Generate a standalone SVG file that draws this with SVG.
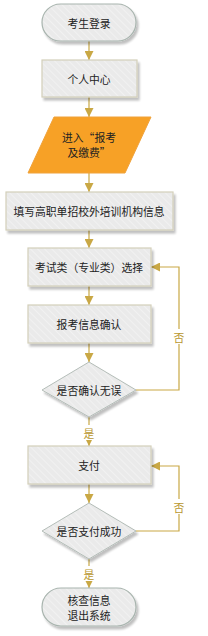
<svg xmlns="http://www.w3.org/2000/svg" width="208" height="636" viewBox="0 0 208 636">
<defs>
<pattern id="hatch" width="5" height="5" patternUnits="userSpaceOnUse" patternTransform="rotate(-45)">
<rect width="5" height="5" fill="#EAEAEA"/>
<line x1="0" y1="0" x2="0" y2="5" stroke="#F4F4F4" stroke-width="1.5"/>
</pattern>
<filter id="sh" x="-20%" y="-20%" width="140%" height="140%">
<feGaussianBlur in="SourceAlpha" stdDeviation="1.2"/>
<feOffset dx="2" dy="2.5" result="b"/>
<feComponentTransfer><feFuncA type="linear" slope="0.25"/></feComponentTransfer>
<feMerge><feMergeNode/><feMergeNode in="SourceGraphic"/></feMerge>
</filter>
<marker id="arr" viewBox="0 0 10 10" refX="10" refY="5" markerWidth="9" markerHeight="9" markerUnits="userSpaceOnUse" orient="auto">
<path d="M0,0 L10,5 L0,10 z" fill="#C9A845"/>
</marker>
</defs>
<style>
.box{fill:url(#hatch);stroke:#D3CFBA;stroke-width:1.2;filter:url(#sh)}
.term{fill:url(#hatch);stroke:#A8B4AE;stroke-width:1.2;filter:url(#sh)}
.dia{fill:url(#hatch);stroke:#B4BDB8;stroke-width:1;filter:url(#sh)}
.io{fill:#F7A126;stroke:#F0A23A;stroke-width:1}
text{font-family:"Noto Sans CJK SC","Liberation Sans",sans-serif;font-size:10.8px;fill:#222;text-anchor:middle;dominant-baseline:central}
.c{fill:none;stroke:#C9A845;stroke-width:1.2;marker-end:url(#arr)}
.lbl{fill:#B8962E;font-size:10.8px}
</style>
<g id="connectors">
<line class="c" x1="89" y1="41" x2="89" y2="60"/>
<line class="c" x1="89" y1="97" x2="89" y2="117"/>
<line class="c" x1="89" y1="173" x2="89" y2="192"/>
<line class="c" x1="89" y1="230" x2="89" y2="248"/>
<line class="c" x1="89" y1="286" x2="89" y2="305"/>
<line class="c" x1="89" y1="343" x2="89" y2="362"/>
<line class="c" x1="89" y1="417" x2="89" y2="446"/>
<polyline class="c" points="136,390 179,390 179,267 151,267"/>
<line class="c" x1="89" y1="484" x2="89" y2="503"/>
<line class="c" x1="89" y1="559" x2="89" y2="588"/>
<polyline class="c" points="136,531 179,531 179,466 151,466"/>
<rect x="173" y="329" width="12" height="15" fill="#fff"/>
<text class="lbl" x="179" y="337">否</text>
<rect x="83" y="425" width="12" height="15" fill="#fff"/>
<text class="lbl" x="89" y="433">是</text>
<rect x="173" y="499" width="12" height="15" fill="#fff"/>
<text class="lbl" x="179" y="507">否</text>
<rect x="83" y="566" width="12" height="15" fill="#fff"/>
<text class="lbl" x="89" y="574">是</text>
</g>
<g id="start">
<rect class="term" x="42" y="4" width="94" height="37" rx="18.5"/>
<text x="89" y="22.5">考生登录</text>
</g>
<g id="center">
<rect class="box" x="42" y="60" width="95" height="37"/>
<text x="89" y="78.5">个人中心</text>
</g>
<g id="enter">
<polygon class="io" points="54,117 151,117 125,173 28,173"/>
<text x="89" y="137">进入“报考</text>
<text x="89" y="152">及缴费”</text>
</g>
<g id="fill">
<rect class="box" x="6" y="192" width="167" height="38"/>
<text x="89" y="211">填写高职单招校外培训机构信息</text>
</g>
<g id="select">
<rect class="box" x="28" y="248" width="123" height="38"/>
<text x="89" y="267">考试类（专业类）选择</text>
</g>
<g id="confirm">
<rect class="box" x="28" y="305" width="123" height="38"/>
<text x="89" y="324">报考信息确认</text>
</g>
<g id="check">
<polygon class="dia" points="89,362 136,390 89,417 42,390"/>
<text x="89" y="390">是否确认无误</text>
</g>
<g id="pay">
<rect class="box" x="28" y="446" width="123" height="38"/>
<text x="89" y="465">支付</text>
</g>
<g id="paycheck">
<polygon class="dia" points="89,503 136,531 89,559 42,531"/>
<text x="89" y="531">是否支付成功</text>
</g>
<g id="end">
<rect class="term" x="42" y="588" width="94" height="38" rx="19"/>
<text x="89" y="599.5">核查信息</text>
<text x="89" y="614.5">退出系统</text>
</g>
</svg>
